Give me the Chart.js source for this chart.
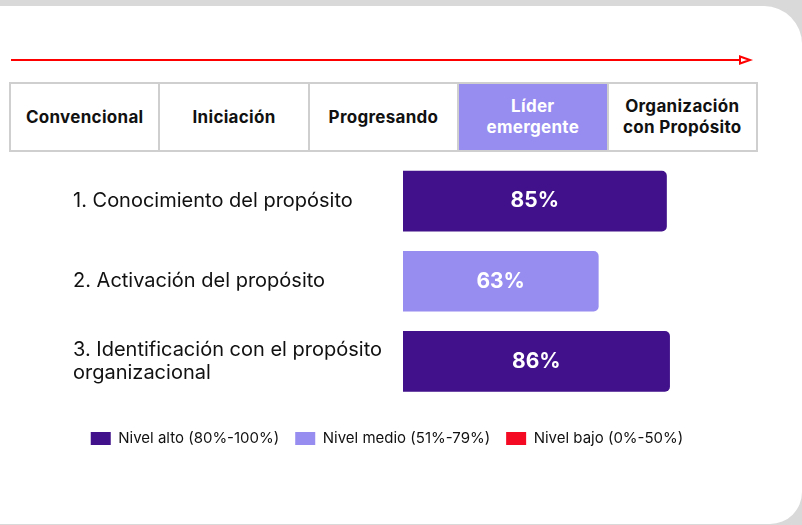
<!DOCTYPE html>
<html>
<head>
<meta charset="utf-8">
<script src="https://cdn.jsdelivr.net/npm/chart.js@4.4.1/dist/chart.umd.min.js"></script>
<style>
  html, body { margin: 0; padding: 0; }
  body { width: 802px; height: 525px; background: #d9d9d9; position: relative; overflow: hidden; font-family: "Inter", sans-serif; }
  .card { position: absolute; left: -30px; top: 6px; width: 832px; height: 518px; background: #fff; border-radius: 0 38px 32px 0; }
  .arrow { position: absolute; left: 0; top: 50px; }
  table.stages { position: absolute; left: 9px; top: 82px; width: 749px; height: 70px; border-collapse: collapse; table-layout: fixed; }
  table.stages td { border: 2px solid #cfcfcf; text-align: center; font-weight: 700; font-size: 17px; letter-spacing: 0.3px; line-height: 21px; color: #111; padding: 0 2px; }
  table.stages td.active { background: #978cf0; color: #fff; }
  .chart-box { position: absolute; left: 0; top: 160px; width: 802px; height: 296px; }
</style>
</head>
<body>
<div class="card"></div>
<svg class="arrow" width="802" height="20">
  <line x1="11" y1="10" x2="741" y2="10" stroke="#ff0000" stroke-width="2"/>
  <polygon points="740,6.5 750,10 740,13.5" fill="#fff" stroke="#ff0000" stroke-width="2"/>
</svg>
<table class="stages">
  <tr id="stageRow"></tr>
</table>
<div class="chart-box"><canvas id="bars"></canvas></div>
<script>
// stages across the top, the current one highlighted
const stages = [["Convencional"], ["Iniciación"], ["Progresando"], ["Líder", "emergente"], ["Organización", "con Propósito"]];
const activeStage = 3;

// chart data
const categories = [
  "1. Conocimiento del propósito",
  "2. Activación del propósito",
  ["3. Identificación con el propósito", "organizacional"]
];
const values = [85, 63, 86];
const levelNames = ["Nivel alto (80%-100%)", "Nivel medio (51%-79%)", "Nivel bajo (0%-50%)"];
const levelColors = ["#40118a", "#978cf0", "#f50a23"];

const row = document.getElementById("stageRow");
stages.forEach((s, i) => {
  const td = document.createElement("td");
  td.innerHTML = s.join("<br>");
  if (i === activeStage) td.className = "active";
  row.appendChild(td);
});

function levelColor(v) {
  if (v >= 80) return levelColors[0];
  if (v >= 51) return levelColors[1];
  return levelColors[2];
}

const valueLabels = {
  id: "valueLabels",
  afterDatasetsDraw(chart) {
    const ctx = chart.ctx;
    const meta = chart.getDatasetMeta(0);
    ctx.save();
    ctx.fillStyle = "#fff";
    ctx.font = "bold 21px Inter";
    ctx.textAlign = "center";
    ctx.textBaseline = "middle";
    meta.data.forEach((bar, i) => {
      const x = (bar.base + bar.x) / 2;
      ctx.fillText(values[i] + "%", x, bar.y);
    });
    ctx.restore();
  }
};

// nudge the legend a little to the left, like the original
const legendShift = {
  id: "legendShift",
  afterLayout(chart) {
    chart.legend.left -= 6;
    chart.legend.right -= 6;
  }
};

new Chart(document.getElementById("bars"), {
  type: "bar",
  data: {
    labels: categories,
    datasets: [{
      data: values,
      backgroundColor: values.map(levelColor),
      borderRadius: { topLeft: 0, bottomLeft: 0, topRight: 5, bottomRight: 5 },
      borderSkipped: false,
      barThickness: 60
    }]
  },
  options: {
    indexAxis: "y",
    responsive: true,
    maintainAspectRatio: false,
    animation: false,
    layout: { padding: { left: 73, right: 89, top: 1, bottom: 0 } },
    scales: {
      x: { display: false, min: 0, max: 100 },
      y: {
        grid: { display: false },
        border: { display: false },
        afterFit(scale) {
          // fixed label column, and no extra room for the two-line label
          scale.width = 330;
          scale.paddingTop = 0;
          scale.paddingBottom = 0;
        },
        ticks: {
          crossAlign: "far",
          color: "#111",
          font: { family: "Inter", size: 20, lineHeight: 1.15 },
          padding: 0
        }
      }
    },
    plugins: {
      tooltip: { enabled: false },
      legend: {
        position: "bottom",
        title: { display: true, text: " ", font: { size: 10 }, padding: { top: 1.5, bottom: 0 } },
        labels: {
          color: "#111",
          font: { family: "Inter", size: 15 },
          boxWidth: 20,
          boxHeight: 13,
          padding: 16,
          generateLabels() {
            return levelNames.map((name, i) => ({
              text: name,
              fillStyle: levelColors[i],
              strokeStyle: levelColors[i],
              fontColor: "#111",
              lineWidth: 0,
              hidden: false
            }));
          }
        }
      }
    }
  },
  plugins: [valueLabels, legendShift]
});
</script>
</body>
</html>
